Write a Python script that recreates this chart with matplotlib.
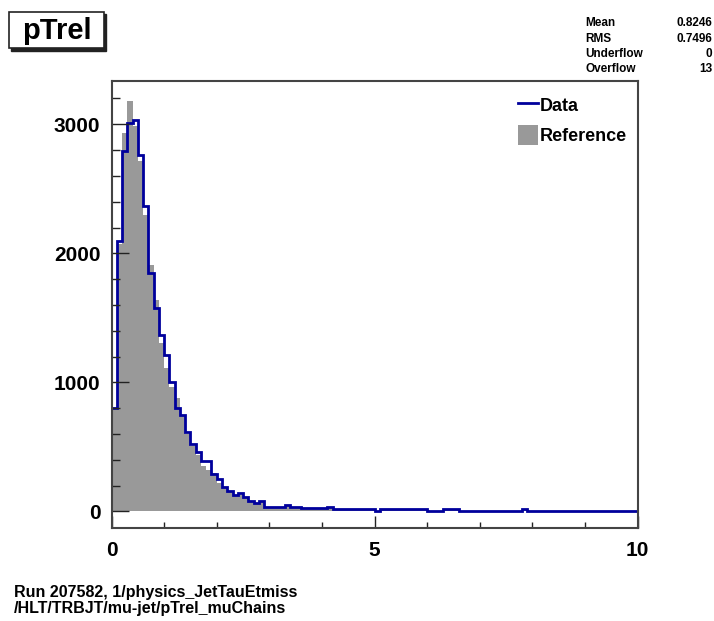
import numpy as np
import matplotlib
matplotlib.use("Agg")
import matplotlib.pyplot as plt
from matplotlib.lines import Line2D
from matplotlib.patches import Patch, Rectangle

plt.rcParams['font.family'] = ['Liberation Sans', 'DejaVu Sans']
plt.rcParams['font.weight'] = 'bold'

# 100 bins of width 0.1 between 0 and 10
bin_edges = np.linspace(0, 10, 101)

data_counts = [802, 2099, 2789, 3009, 3035, 2764, 2363, 1851, 1575, 1368,
               1213, 1006, 802, 748, 619, 521, 464, 391, 391, 288,
               250, 192, 161, 128, 146, 115, 84, 64, 84, 37,
               37, 35, 33, 50, 33, 33, 25, 25, 25, 25,
               25, 37, 17, 17, 17, 17, 17, 17, 17, 17,
               4, 17, 17, 17, 17, 17, 17, 17, 17, 17,
               4, 4, 4, 17, 17, 17, 4, 4, 4, 4,
               4, 4, 4, 4, 4, 4, 4, 4, 17, 4,
               4, 4, 4, 4, 4, 4, 4, 4, 4, 4,
               4, 4, 4, 4, 4, 4, 4, 4, 4, 4]

ref_counts = [790, 2070, 2932, 3177, 2990, 2719, 2295, 1911, 1640, 1304,
              1115, 967, 880, 740, 600, 505, 440, 355, 322, 300,
              219, 185, 150, 125, 130, 105, 80, 65, 75, 35,
              33, 32, 30, 45, 30, 30, 23, 23, 22, 22,
              22, 30, 15, 15, 15, 15, 15, 15, 15, 15,
              5, 15, 15, 15, 15, 15, 15, 8, 15, 15,
              4, 4, 4, 14, 14, 14, 4, 4, 4, 4,
              4, 4, 4, 4, 4, 4, 4, 4, 12, 4,
              3, 3, 3, 3, 3, 3, 3, 3, 3, 3,
              3, 3, 3, 3, 3, 3, 3, 3, 3, 3]

stat_names = ["Mean", "RMS", "Underflow", "Overflow"]
stat_values = ["0.8246", "0.7496", "0", "13"]

hist_name = "pTrel"
footer = ["Run 207582, 1/physics_JetTauEtmiss", "/HLT/TRBJT/mu-jet/pTrel_muChains"]

W, H = 714, 621
fig = plt.figure(figsize=(W / 100, H / 100), dpi=100)
ax = fig.add_axes([111.5 / W, 1 - 528 / H, (637.7 - 111.5) / W, (528 - 81) / H])

ax.stairs(ref_counts, bin_edges, fill=True, color='#999999', label='Reference')
ax.stairs(data_counts, bin_edges, color='#00009c', linewidth=2.0, baseline=None, label='Data')

ax.set_xlim(0, 10)
ax.set_ylim(-128, 3335)
ax.set_xticks([0, 5, 10])
ax.set_xticks(np.arange(0, 11, 1), minor=True)
ax.set_yticks([0, 1000, 2000, 3000])
ax.set_yticks(np.arange(0, 3335, 200), minor=True)
ax.tick_params(axis='both', which='both', direction='in', labelsize=15, width=1.0, color='#222222')
ax.tick_params(axis='x', which='major', length=9, pad=9)
ax.tick_params(axis='x', which='minor', length=4.5)
ax.tick_params(axis='y', which='major', length=12, pad=8)
ax.tick_params(axis='y', which='minor', length=6)
for lab in ax.get_xticklabels() + ax.get_yticklabels():
    lab.set_fontweight('bold')
for sp in ax.spines.values():
    sp.set_color('#444444')
    sp.set_linewidth(1.5)

handles = [Line2D([], [], color='#00009c', linewidth=2.0),
           Patch(facecolor='#999999', edgecolor='none')]
leg = ax.legend(handles, ['Data', 'Reference'], loc='upper left',
                bbox_to_anchor=(509 / W, 1 - 86 / H), bbox_transform=fig.transFigure,
                frameon=False, fontsize=13, handlelength=1.1, handleheight=1.3,
                handletextpad=0.12, labelspacing=0.55, borderpad=0.0)
for t in leg.get_texts():
    t.set_fontweight('bold')

# title box with shadow
fig.add_artist(Rectangle((11 / W, 1 - 51 / H), 95 / W, 37 / H, transform=fig.transFigure,
                         facecolor='#222222', edgecolor='#222222'))
fig.add_artist(Rectangle((9 / W, 1 - 48 / H), 95 / W, 36 / H, transform=fig.transFigure,
                         facecolor='white', edgecolor='#222222', linewidth=1.2))
fig.text(57 / W, 1 - 31 / H, hist_name, fontsize=21, fontweight='bold', ha='center', va='center')

# stats
for i, (n, v) in enumerate(zip(stat_names, stat_values)):
    y = 1 - (23.3 + 15.3 * i) / H
    fig.text(585 / W, y, n, fontsize=8.5, fontweight='bold', ha='left', va='center')
    fig.text(712.5 / W, y, v, fontsize=8.5, fontweight='bold', ha='right', va='center')

fig.text(14 / W, 1 - 593 / H, footer[0], fontsize=11.5, fontweight='bold', ha='left', va='center')
fig.text(14 / W, 1 - 609 / H, footer[1], fontsize=11.5, fontweight='bold', ha='left', va='center')

fig.savefig("out.png", dpi=100)
